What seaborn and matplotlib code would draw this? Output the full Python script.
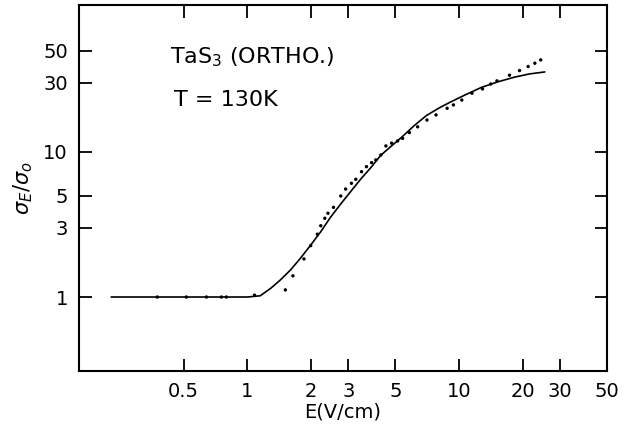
import matplotlib
matplotlib.use('Agg')
import matplotlib.pyplot as plt
import seaborn as sns
import pandas as pd

# measured points, E (V/cm) and sigma_E / sigma_0
e_points = [0.375, 0.514, 0.64, 0.753, 0.795, 1.08, 1.51, 1.64, 1.85, 1.99,
            2.14, 2.22, 2.32, 2.40, 2.55, 2.76, 2.91, 3.10, 3.25, 3.46,
            3.65, 3.86, 4.04, 4.27, 4.51, 4.80, 5.12, 5.41, 5.82, 6.37,
            7.05, 7.78, 8.78, 9.40, 10.3, 11.5, 12.9, 14.1, 15.1, 17.3,
            19.3, 21.2, 22.8, 24.3]
sigma_points = [1.0, 1.0, 1.0, 1.0, 1.0, 1.03, 1.12, 1.40, 1.83, 2.26,
                2.71, 3.10, 3.49, 3.78, 4.15, 4.97, 5.55, 6.08, 6.48, 7.31,
                7.92, 8.44, 8.81, 9.53, 11.0, 11.5, 11.9, 12.4, 13.6, 14.9,
                16.6, 18.0, 20.0, 21.1, 22.8, 25.4, 27.2, 29.4, 30.9, 33.8,
                36.4, 38.8, 40.9, 43.1]

# fitted curve
e_curve = [0.227, 1.0, 1.15, 1.29, 1.43, 1.60, 1.78, 1.99, 2.22, 2.47,
           2.76, 3.08, 3.43, 3.83, 4.27, 4.76, 5.31, 6.14, 7.0, 8.0,
           9.0, 10.6, 12.7, 15.2, 18.3, 21.5, 25.4]
sigma_curve = [1.0, 1.0, 1.02, 1.15, 1.31, 1.54, 1.85, 2.28, 2.82, 3.55,
               4.38, 5.35, 6.5, 7.8, 9.5, 10.9, 12.5, 15.2, 17.8, 20.0,
               21.9, 24.6, 27.8, 30.4, 32.8, 34.5, 35.6]

x_ticks = [0.5, 1, 2, 3, 5, 10, 20, 30, 50]
x_labels = ['0.5', '1', '2', '3', '5', '10', '20', '30', '50']
y_ticks = [1, 3, 5, 10, 30, 50]
y_labels = ['1', '3', '5', '10', '30', '50']

sns.set_theme(style='ticks')
plt.rcParams['font.family'] = ['DejaVu Sans']
plt.rcParams['mathtext.fontset'] = 'dejavusans'
for key in ['text.color', 'axes.labelcolor', 'xtick.color', 'ytick.color']:
    plt.rcParams[key] = 'black'

pts = pd.DataFrame({'E': e_points, 'sigma': sigma_points})
fit = pd.DataFrame({'E': e_curve, 'sigma': sigma_curve})

fig = plt.figure(figsize=(6.24, 4.29), dpi=100)
ax = fig.add_axes([0.1266, 0.1352, 0.8462, 0.8531])

sns.lineplot(data=fit, x='E', y='sigma', color='black', linewidth=1.2,
             sort=False, ax=ax)
sns.scatterplot(data=pts, x='E', y='sigma', color='black', s=6,
                edgecolor='none', ax=ax)

ax.set_xscale('log')
ax.set_yscale('log')
ax.set_xlim(0.16, 50)
ax.set_ylim(0.309, 103)

ax.set_xticks(x_ticks)
ax.set_xticklabels(x_labels)
ax.set_yticks(y_ticks)
ax.set_yticklabels(y_labels)
ax.minorticks_off()
ax.tick_params(which='major', direction='in', length=9, width=1.3,
               labelsize=14, top=True, right=True, pad=8)

for sp in ax.spines.values():
    sp.set_linewidth(1.5)
    sp.set_color('black')

ax.set_xlabel('E(V/cm)', fontsize=14, labelpad=1)
ax.set_ylabel(r'$\sigma_E/\sigma_o$', fontsize=15, labelpad=6)

ax.text(0.172, 0.84, r'TaS$_3$ (ORTHO.)', transform=ax.transAxes,
        fontsize=16, ha='left', va='baseline')
ax.text(0.18, 0.725, 'T = 130K', transform=ax.transAxes,
        fontsize=16, ha='left', va='baseline')

fig.savefig('out.png', dpi=100)
